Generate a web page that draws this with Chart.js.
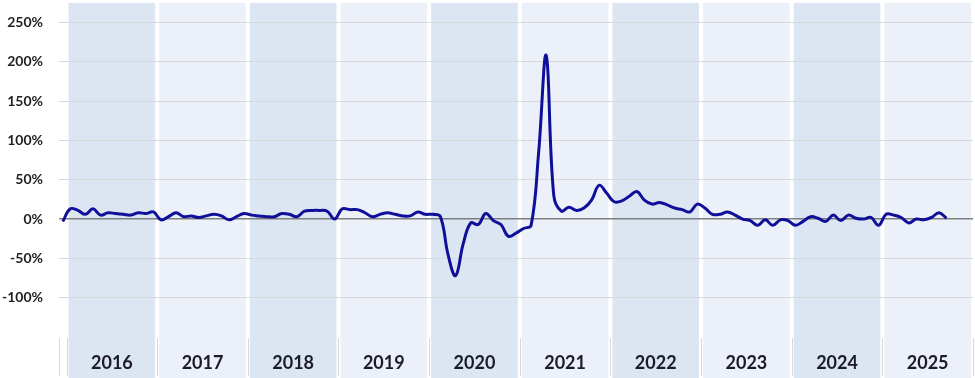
<!DOCTYPE html>
<html>
<head>
<meta charset="utf-8">
<script src="https://cdn.jsdelivr.net/npm/chart.js@4.4.1/dist/chart.umd.min.js"></script>
<style>
    body { margin: 0; background: #fff; }
    #wrap { width: 975px; height: 378px; }
</style>
</head>
<body>
<div id="wrap"><canvas id="growthChart"></canvas></div>
<script>
// year labels on the bottom axis (first point is Dec 2015)
const years = ['2016', '2017', '2018', '2019', '2020', '2021', '2022', '2023', '2024', '2025'];
const yTicks = [-100, -50, 0, 50, 100, 150, 200, 250];

// monthly change in %, Dec 2015 .. Sep 2025
const values = [
    -3,
    13, 11, 6, 13, 5, 8, 7, 6, 5, 8, 7, 9,            // 2016
    -1, 3, 8, 3, 4, 2, 4, 6, 4, -1, 3, 7,             // 2017
    5, 4, 3, 3, 7, 6, 3, 10, 11, 11, 10, 0,           // 2018
    13, 12, 12, 8, 3, 6, 8, 6, 4, 4, 9, 6,            // 2019
    6, 3, -45, -72, -32, -5, -7, 7, -2, -7, -22, -18, // 2020
    -12, -8, 85, 208, 30, 10, 15, 11, 14, 24, 43, 33, // 2021
    22, 23, 29, 35, 24, 19, 21, 18, 14, 12, 9, 19,    // 2022
    14, 6, 6, 9, 5, 0, -2, -8, -1, -8, -1, -2,        // 2023
    -8, -3, 3, 1, -3, 5, -2, 5, 1, 0, 2, -8,          // 2024
    6, 5, 2, -5, 0, -1, 2, 8, 1                       // 2025
];

const bandColors = ['#dce6f2', '#ecf1f9'];

// year bands + the little separators under the axis
const yearBands = {
    id: 'yearBands',
    beforeDraw(chart) {
        const ctx = chart.ctx;
        const x = chart.scales.x;
        const top = chart.chartArea.top;
        const bottom = chart.chartArea.bottom;
        ctx.save();
        years.forEach((y, k) => {
            const x0 = x.getPixelForValue(12 * k + 0.5);
            const x1 = x.getPixelForValue(12 * k + 12.5);
            ctx.fillStyle = bandColors[k % 2];
            ctx.fillRect(x0 + 2, top, x1 - x0 - 4, chart.height - top);
        });
        ctx.strokeStyle = '#d9d9d9';
        ctx.lineWidth = 1;
        const edges = [-0.5];
        for (let k = 0; k <= years.length; k++) edges.push(12 * k + 0.5);
        edges.forEach(v => {
            const px = Math.round(x.getPixelForValue(v)) + 0.5;
            ctx.beginPath();
            ctx.moveTo(px, bottom + 1);
            ctx.lineTo(px, chart.height - 2);
            ctx.stroke();
        });
        ctx.restore();
    }
};

new Chart(document.getElementById('growthChart'), {
    type: 'line',
    data: {
        datasets: [{
            data: values.map((v, i) => ({ x: i, y: v })),
            borderColor: '#0f0f99',
            borderWidth: 3,
            tension: 0.4,
            pointRadius: 0,
            fill: false
        }]
    },
    options: {
        responsive: true,
        maintainAspectRatio: false,
        animation: false,
        layout: { padding: { top: 0, right: 2, left: 0, bottom: 0 } },
        plugins: { legend: { display: false }, tooltip: { enabled: false } },
        scales: {
            x: {
                type: 'linear',
                min: -0.5,
                max: 120.5,
                border: { display: false },
                grid: { display: false, drawTicks: false },
                afterBuildTicks: scale => {
                    scale.ticks = years.map((y, k) => ({ value: 12 * k + 6.5 }));
                },
                afterFit: scale => { scale.height = 41; },
                ticks: {
                    autoSkip: false,
                    maxRotation: 0,
                    padding: 15,
                    color: '#1b1b2b',
                    font: { family: 'Lato', size: 18, weight: 'bold' },
                    callback: (v, idx) => years[idx]
                }
            },
            y: {
                min: -150,
                max: 275,
                border: { display: false },
                afterBuildTicks: scale => {
                    scale.ticks = yTicks.map(v => ({ value: v }));
                },
                afterFit: scale => { scale.width = 59; },
                grid: {
                    drawTicks: true,
                    tickLength: 16,
                    tickColor: 'rgba(0,0,0,0)',
                    color: c => c.tick && c.tick.value === 0 ? '#7f7f7f' : '#d9d9d9',
                    lineWidth: c => c.tick && c.tick.value === 0 ? 1.5 : 1
                },
                ticks: {
                    padding: 0,
                    color: '#1f1f1f',
                    font: { family: 'Lato', size: 14, weight: 'bold', lineHeight: 0.4 },
                    callback: v => v + '%'
                }
            }
        }
    },
    plugins: [yearBands]
});
</script>
</body>
</html>
